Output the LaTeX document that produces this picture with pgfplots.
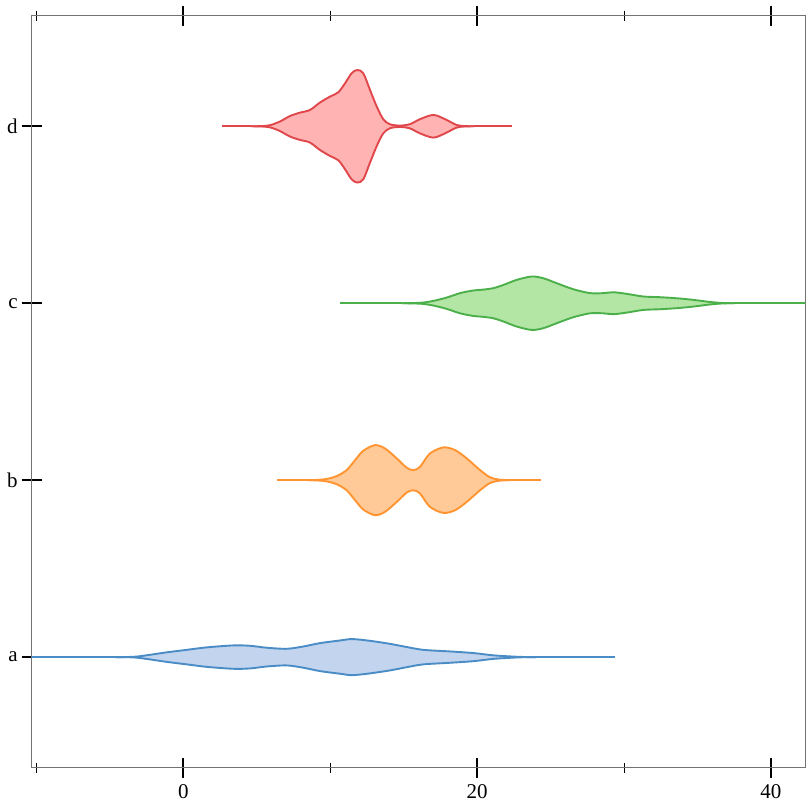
\documentclass[border=0pt]{standalone}
\usepackage{fontspec}
\setmainfont{Liberation Serif}
\usepackage{pgfplots}
\pgfplotsset{compat=1.18}
\usepackage{pgfplotstable}
\usepgfplotslibrary{fillbetween}

\definecolor{aline}{HTML}{4A8CC6}\definecolor{afill}{HTML}{C3D4EE}
\definecolor{bline}{HTML}{FF9430}\definecolor{bfill}{HTML}{FFCA98}
\definecolor{cline}{HTML}{4CB04A}\definecolor{cfill}{HTML}{B3E6A5}
\definecolor{dline}{HTML}{E0474B}\definecolor{dfill}{HTML}{FFB3B3}

\pgfplotstableread{
x w
-4.6 0
-3.8 0.0006
-3.17 0.003
-2.27 0.013
-1.13 0.027
0.23 0.041
1.59 0.055
3.40 0.066
4.54 0.064
5.68 0.053
7.04 0.047
8.17 0.060
9.30 0.079
10.67 0.094
11.5 0.102
12.71 0.092
14.07 0.075
15.21 0.057
16.34 0.041
18.16 0.032
19.74 0.023
21.10 0.010
22.46 0.003
23.2 0.0006
24.0 0
}\atab
\pgfplotstableread{
x w
8.5 0
9.2 0.002
9.76 0.007
10.44 0.023
11.12 0.057
11.69 0.113
12.25 0.166
13.05 0.198
13.73 0.179
14.53 0.123
15.21 0.070
15.66 0.057
16.11 0.075
16.79 0.151
17.70 0.185
18.50 0.170
19.29 0.123
20.20 0.057
20.88 0.016
21.5 0.003
22.2 0
}\btab
\pgfplotstableread{
x w
14.9 0
15.6 0.001
16.34 0.004
17.02 0.013
17.93 0.032
18.84 0.057
19.74 0.072
20.42 0.077
21.10 0.085
21.78 0.103
22.70 0.132
23.72 0.151
24.51 0.141
25.42 0.113
26.55 0.079
27.69 0.057
28.59 0.057
29.27 0.062
30.18 0.053
31.31 0.038
32.45 0.034
33.59 0.028
34.72 0.019
35.86 0.007
36.76 0.001
37.5 0
}\ctab
\pgfplotstableread{
x w
4.6 0
5.3 0.001
5.90 0.006
6.58 0.027
7.26 0.058
7.94 0.077
8.62 0.092
9.30 0.134
9.99 0.168
10.55 0.192
11.01 0.243
11.46 0.300
11.84 0.318
12.25 0.300
12.71 0.205
13.17 0.111
13.61 0.040
14.07 0.011
14.75 0.004
15.43 0.012
16.11 0.040
17.02 0.064
17.82 0.040
18.61 0.007
19.2 0.001
19.8 0
}\dtab

\begin{document}
\begin{tikzpicture}
\begin{axis}[
  at={(0pt,0pt)}, anchor=south west,
  scale only axis, width=386.8pt, height=376pt,
  xmin=-10.32, xmax=42.34, ymin=-0.625, ymax=3.625,
  xtick={0,20,40}, minor xtick={-10,10,30},
  ytick={0,1,2,3}, yticklabels={a,b,c,d},
  xtick pos=both, xticklabel pos=lower, ytick pos=left,
  tick align=center,
  major tick length=10pt, minor tick length=5pt,
  major tick style={black, line width=0.9pt},
  minor tick style={black, line width=0.4pt},
  axis line style={black!55, line width=0.55pt},
  tick label style={font=\fontsize{10.5}{12}\selectfont},
  yticklabel style={xshift=1.5pt},
  /pgf/number format/assume math mode=true,
  clip=true,
]
\pgfplotsset{every axis plot/.append style={line width=0.95pt}}
% centre lines outside the violins
\addplot[aline] coordinates {(-12,0) (-4.6,0)};
\addplot[aline] coordinates {(24.0,0) (29.39,0)};
\addplot[bline] coordinates {(6.38,1) (8.5,1)};
\addplot[bline] coordinates {(22.2,1) (24.35,1)};
\addplot[cline] coordinates {(10.67,2) (14.9,2)};
\addplot[cline] coordinates {(37.5,2) (45,2)};
\addplot[dline] coordinates {(2.61,3) (4.6,3)};
\addplot[dline] coordinates {(19.8,3) (22.35,3)};
% a
\addplot[name path=aU, aline, smooth, tension=0.5] table[x=x, y expr=0+\thisrow{w}] {\atab};
\addplot[name path=aL, aline, smooth, tension=0.5] table[x=x, y expr=0-\thisrow{w}] {\atab};
\addplot[afill, draw=none] fill between[of=aU and aL];
% b
\addplot[name path=bU, bline, smooth, tension=0.5] table[x=x, y expr=1+\thisrow{w}] {\btab};
\addplot[name path=bL, bline, smooth, tension=0.5] table[x=x, y expr=1-\thisrow{w}] {\btab};
\addplot[bfill, draw=none] fill between[of=bU and bL];
% c
\addplot[name path=cU, cline, smooth, tension=0.5] table[x=x, y expr=2+\thisrow{w}] {\ctab};
\addplot[name path=cL, cline, smooth, tension=0.5] table[x=x, y expr=2-\thisrow{w}] {\ctab};
\addplot[cfill, draw=none] fill between[of=cU and cL];
% d
\addplot[name path=dU, dline, smooth, tension=0.5] table[x=x, y expr=3+\thisrow{w}] {\dtab};
\addplot[name path=dL, dline, smooth, tension=0.5] table[x=x, y expr=3-\thisrow{w}] {\dtab};
\addplot[dfill, draw=none] fill between[of=dU and dL];
\end{axis}
\pgfresetboundingbox
\path[use as bounding box] (-15.85pt,-22.15pt) rectangle (390.15pt,383.85pt);
\end{tikzpicture}
\end{document}
